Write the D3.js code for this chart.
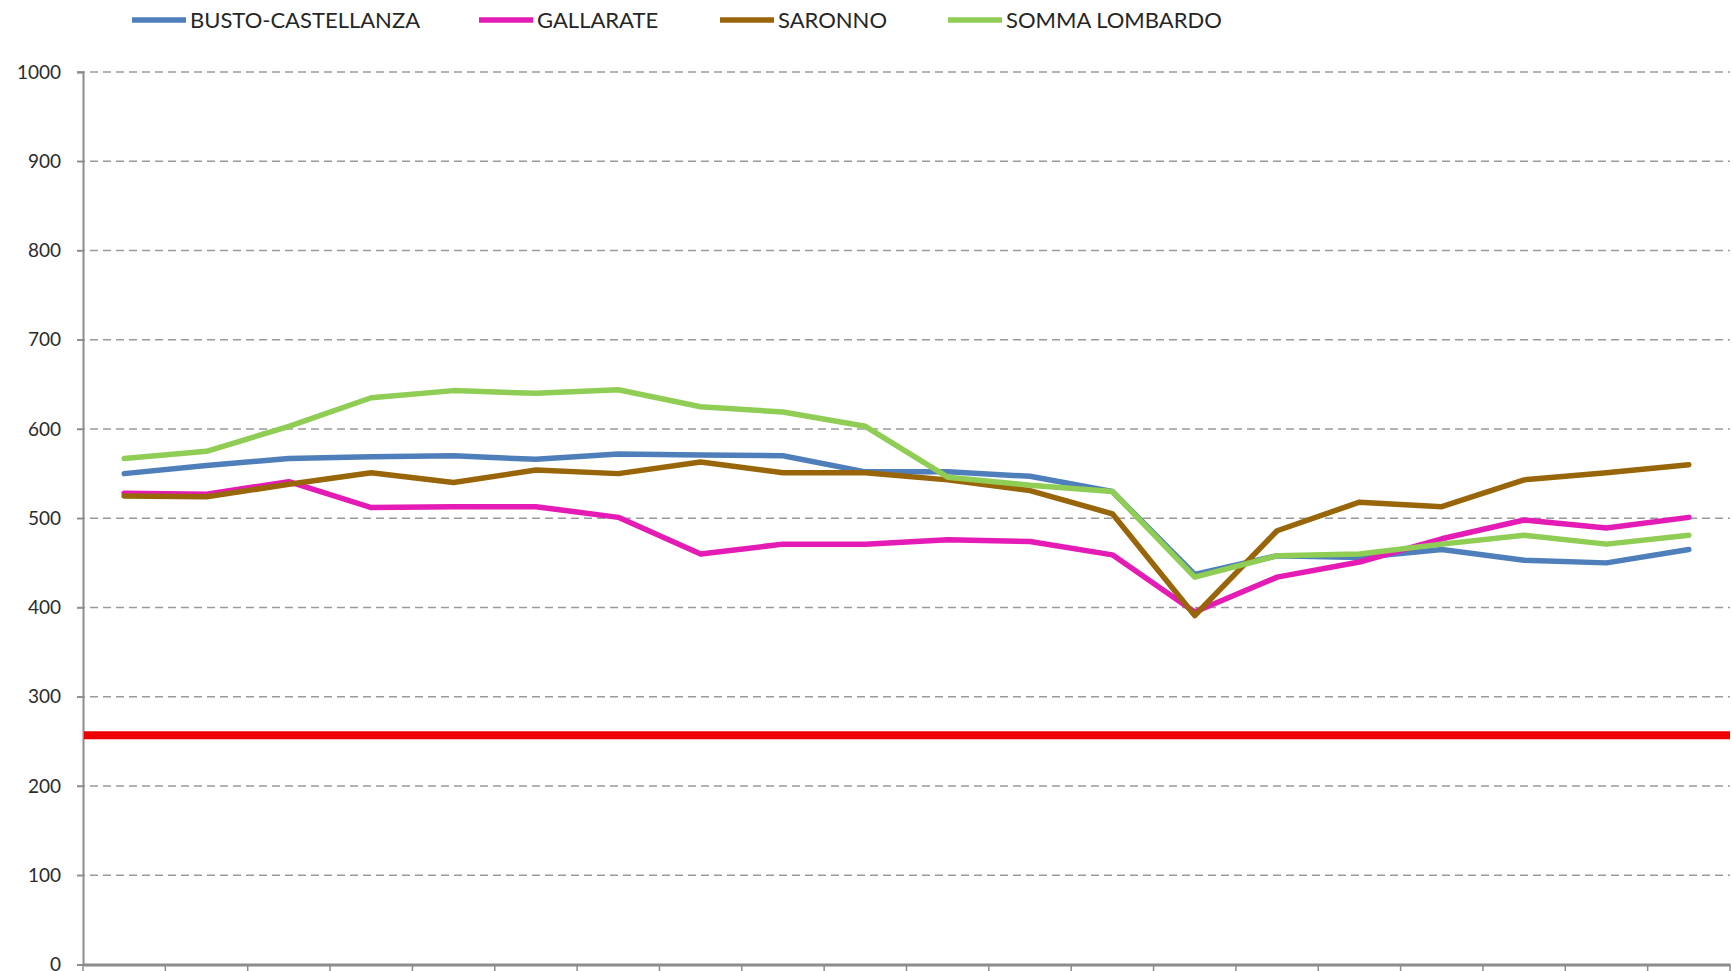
<!DOCTYPE html>
<html>
<head>
<meta charset="utf-8">
<script src="https://cdn.jsdelivr.net/npm/d3@7"></script>
<style>
    html, body { margin: 0; padding: 0; background: #fff; overflow: hidden; }
    svg { display: block; }
</style>
</head>
<body>
<svg id="chart"></svg>
<script>
// data
let categories = d3.range(1, 21);
let seriesNames = ['BUSTO-CASTELLANZA', 'GALLARATE', 'SARONNO', 'SOMMA LOMBARDO'];
let seriesColors = ['#4f7fbb', '#e41bb4', '#986609', '#8fcd55'];
let busto = [550, 559, 567, 569, 570, 566, 572, 571, 570, 552, 552, 547, 530, 437, 458, 456, 465, 453, 450, 465];
let gallarate = [528, 527, 541, 512, 513, 513, 501, 460, 471, 471, 476, 474, 459, 395, 434, 451, 477, 498, 489, 501];
let saronno = [525, 524, 538, 551, 540, 554, 550, 563, 551, 551, 543, 531, 505, 391, 486, 518, 513, 543, 551, 560];
let somma = [567, 575, 603, 635, 643, 640, 644, 625, 619, 603, 546, 537, 530, 434, 458, 460, 471, 481, 471, 481];
let yTicks = [0, 100, 200, 300, 400, 500, 600, 700, 800, 900, 1000];
let limitValue = 257;

function draw_chart() {
    let width = 1733,
        height = 971,
        margin = {left: 83, top: 72, right: 3, bottom: 6.5};

    let svg = d3.select('#chart')
        .attr('width', width)
        .attr('height', height);

    // scales
    let x = d3.scaleBand()
        .domain(categories)
        .range([margin.left, width - margin.right]);
    let y = d3.scaleLinear()
        .domain([0, 1000])
        .range([height - margin.bottom, margin.top]);

    // dashed grid lines
    svg.append('g')
        .selectAll('line')
        .data(yTicks.filter(d => d > 0))
        .join('line')
        .attr('x1', margin.left - 6)
        .attr('x2', width - margin.right)
        .attr('y1', d => y(d))
        .attr('y2', d => y(d))
        .attr('stroke', '#9a9a9a')
        .attr('stroke-width', 1.6)
        .attr('stroke-dasharray', '8,5');

    // y axis
    let yAxis = svg.append('g')
        .attr('transform', 'translate(' + margin.left + ',0)')
        .call(d3.axisLeft(y).tickValues(yTicks).tickFormat(d3.format('d')).tickSize(6).tickPadding(16));
    yAxis.select('.domain').attr('stroke', '#8c8c8c').attr('stroke-width', 2);
    yAxis.selectAll('.tick line').attr('stroke', '#8c8c8c').attr('stroke-width', 1.5);
    yAxis.selectAll('.tick text')
        .attr('fill', '#2b2b2b')
        .style('font-family', 'Lato, "Open Sans", sans-serif')
        .style('font-size', '19px');

    // x axis, labels are cut off at the bottom of the picture
    let xAxis = svg.append('g')
        .attr('transform', 'translate(0,' + y(0) + ')')
        .call(d3.axisBottom(x).tickSizeInner(0).tickSizeOuter(0).tickFormat(''));
    xAxis.select('.domain').attr('stroke', '#8c8c8c').attr('stroke-width', 3);
    xAxis.append('g')
        .selectAll('line')
        .data(categories.concat([null]))
        .join('line')
        .attr('x1', (d, i) => margin.left + i * x.step())
        .attr('x2', (d, i) => margin.left + i * x.step())
        .attr('y1', 0)
        .attr('y2', 10)
        .attr('stroke', '#8c8c8c')
        .attr('stroke-width', 1.5);

    // red limit line
    svg.append('line')
        .attr('x1', margin.left + 1)
        .attr('x2', width - margin.right)
        .attr('y1', y(limitValue))
        .attr('y2', y(limitValue))
        .attr('stroke', '#ee0000')
        .attr('stroke-width', 8);

    // series lines
    let allSeries = [busto, gallarate, saronno, somma];
    let line = d3.line()
        .x((d, i) => x(categories[i]) + x.bandwidth() / 2)
        .y(d => y(d));
    allSeries.forEach(function (values, i) {
        svg.append('path')
            .datum(values)
            .attr('d', line)
            .attr('fill', 'none')
            .attr('stroke', seriesColors[i])
            .attr('stroke-width', 5.5)
            .attr('stroke-linejoin', 'round')
            .attr('stroke-linecap', 'round');
    });

    // legend
    let legendX = [132, 479, 720, 948];
    let legend = svg.append('g');
    seriesNames.forEach(function (name, i) {
        legend.append('line')
            .attr('x1', legendX[i])
            .attr('x2', legendX[i] + 54)
            .attr('y1', 20)
            .attr('y2', 20)
            .attr('stroke', seriesColors[i])
            .attr('stroke-width', 5.5);
        legend.append('text')
            .attr('x', legendX[i] + 58)
            .attr('y', 28)
            .attr('fill', '#262626')
            .style('font-family', 'Lato, "Open Sans", sans-serif')
            .style('font-size', '22px')
            .text(name);
    });
}

draw_chart();
</script>
</body>
</html>
